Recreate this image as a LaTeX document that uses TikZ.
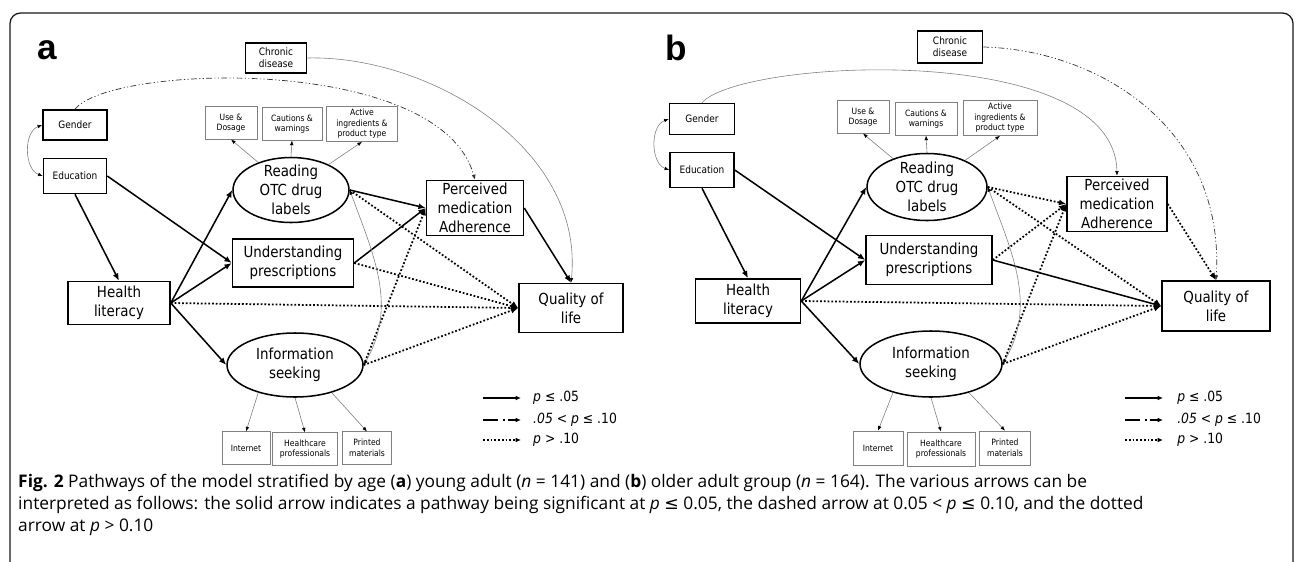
\documentclass[tikz,border=0pt]{standalone}
\usepackage{fontspec}
\usetikzlibrary{arrows.meta,shapes.geometric}
\newfontfamily\diagfont[FakeStretch=0.88]{DejaVu Sans}
\newfontfamily\dvsans{DejaVu Sans}
\newfontfamily\capfont{Open Sans}
\newfontfamily\tagfont{Liberation Sans}

\begin{document}
\begin{tikzpicture}[x=0.03cm,y=-0.03cm,
  every node/.style={align=center},
  obs/.style={draw,line width=1.3pt,inner sep=1pt,font=\diagfont\fontsize{13}{16}\selectfont},
  latent/.style={obs,ellipse,inner xsep=0pt,inner ysep=-6pt},
  demo/.style={draw,line width=1.3pt,inner sep=1pt,minimum height=0.93cm,font=\diagfont\fontsize{8.7}{10.5}\selectfont},
  ind/.style={draw=gray,line width=0.6pt,inner sep=1pt,minimum height=0.97cm,font=\diagfont\fontsize{7.4}{9}\selectfont},
  tag/.style={font=\tagfont\bfseries\fontsize{30}{30}\selectfont},
  leg/.style={anchor=west,inner sep=0pt,font=\diagfont\fontsize{12}{12}\selectfont},
  sig/.style={line width=1.3pt,-{Latex[length=2.2mm,width=1.8mm]}},
  ns/.style={line width=1.5pt,dash pattern=on 1.5pt off 1.7pt,-{Latex[length=2.2mm,width=1.8mm]}},
  marg/.style={line width=0.6pt,black!80,dash pattern=on 5pt off 2pt on 1pt off 2pt on 1pt off 2pt,-{Latex[length=1.5mm,width=1.2mm]}},
  load/.style={gray,line width=0.5pt,-{Latex[length=1.4mm,width=1.1mm,color=black]}},
  cov/.style={load,{Latex[length=1.4mm,width=1.1mm,color=black]}-{Latex[length=1.4mm,width=1.1mm,color=black]}},
]
  \path[use as bounding box,clip] (0,0) rectangle (1295,561);
  \fill[white] (0,0) rectangle (1295,561);
  \draw[line width=1.1pt,black!90,rounded corners=9pt] (10,600) -- (10,13) -- (1293,13) -- (1293,600);

  % panel a: young adults
  \node[tag] (a-tag) at (47,50) {a};
  \node[demo,minimum width=1.83cm,minimum height=0.9cm] (a-chr) at (276,58) {Chronic\\disease};
  \node[demo,minimum width=1.92cm,minimum height=0.9cm] (a-gen) at (75,125) {Gender};
  \node[demo,minimum width=1.89cm,minimum height=1.05cm] (a-edu) at (75,176) {Education};
  \node[ind,minimum width=1.56cm] (a-use) at (231,123) {Use \&\\Dosage};
  \node[ind,minimum width=1.8cm] (a-cau) at (292,124) {Cautions \&\\warnings};
  \node[ind,minimum width=2.13cm,minimum height=1.05cm] (a-act) at (362,124) {Active\\ingredients \&\\product type};
  \node[latent,minimum width=3.48cm,minimum height=1.95cm] (a-read) at (291,190) {Reading\\OTC drug\\labels};
  \node[obs,minimum width=3.63cm,minimum height=1.44cm] (a-und) at (293,263) {Understanding\\prescriptions};
  \node[latent,minimum width=4.08cm,minimum height=1.92cm] (a-info) at (295,365) {Information\\seeking};
  \node[obs,minimum width=3.06cm,minimum height=1.29cm] (a-hl) at (119,303) {Health\\literacy};
  \node[obs,minimum width=2.91cm,minimum height=1.65cm] (a-pma) at (475,208) {Perceived\\medication\\Adherence};
  \node[obs,minimum width=3.12cm,minimum height=1.47cm] (a-qol) at (571,308) {Quality of\\life};
  \node[ind,minimum width=1.44cm] (a-int) at (246,448) {Internet};
  \node[ind,minimum width=1.95cm] (a-hcp) at (305,449) {Healthcare\\professionals};
  \node[ind,minimum width=1.47cm] (a-pm) at (367,448) {Printed\\materials};

  \draw[cov] (a-gen.west) to[out=200,in=160] (a-edu.west);
  \draw[marg] (a-gen.north) .. controls +(35,-45) and +(-35,-126) .. (a-pma.north);
  \draw[load] (a-chr.east) .. controls +(123,-3) and +(14,-134) .. (a-qol.north);
  \draw[sig] (a-edu.south) -- (a-hl.north);
  \draw[sig] (a-edu.east) -- (a-und.west);
  \draw[sig] (a-hl.east) -- (a-read.west);
  \draw[sig] (a-hl.east) -- (a-und.west);
  \draw[sig] (a-hl.east) -- (a-info.west);
  \draw[ns] (a-hl.east) -- (a-qol.west);
  \draw[sig] (a-read.east) -- (a-pma.west);
  \draw[ns] (a-read.east) -- (a-qol.west);
  \draw[sig] (a-und.east) -- (a-pma.west);
  \draw[ns] (a-und.east) -- (a-qol.west);
  \draw[ns] (a-info.east) -- (a-pma.west);
  \draw[ns] (a-info.east) -- (a-qol.west);
  \draw[sig] (a-pma.east) -- (a-qol.north);
  \draw[cov] (a-read.east) to[out=-70,in=60] (a-info.east);
  \draw[load] (a-read) -- (a-use.south);
  \draw[load] (a-read.north) -- (a-cau.south);
  \draw[load] (a-read) -- (a-act.south);
  \draw[load] (a-info.217) -- (a-int.north);
  \draw[load] (a-info.south) -- (a-hcp.north);
  \draw[load] (a-info.323) -- (a-pm.north);

  \coordinate (a-l1) at (483,398); \coordinate (a-l1e) at (521,398);
  \coordinate (a-l2) at (483,420); \coordinate (a-l2e) at (521,420);
  \coordinate (a-l3) at (483,440); \coordinate (a-l3e) at (521,440);
  \draw[sig,-{Latex[length=1.6mm,width=1.4mm]}] (a-l1) -- (a-l1e);
  \draw[line width=1.3pt,dash pattern=on 13pt off 4pt on 1.5pt off 3pt,-{Latex[length=1.6mm,width=1.4mm]}] (a-l2) -- (a-l2e);
  \draw[ns,-{Latex[length=1.6mm,width=1.4mm]}] (a-l3) -- (a-l3e);
  \node[leg] (a-t1) at (533,398) {\textit{p} ≤ .05};
  \node[leg] (a-t2) at (533,420) {\textit{.05 < p} ≤ .10};
  \node[leg] (a-t3) at (533,440) {\textit{p} > .10};

  % panel b: older adults
  \node[tag] (b-tag) at (676,48) {b};
  \node[demo,minimum width=1.95cm,minimum height=0.96cm] (b-chr) at (950,47) {Chronic\\disease};
  \node[demo,minimum width=1.95cm] (b-gen) at (702,119) {Gender};
  \node[demo,minimum width=1.92cm,minimum height=1.05cm] (b-edu) at (702,170) {Education};
  \node[ind,minimum width=1.56cm] (b-use) at (863,117) {Use \&\\Dosage};
  \node[ind,minimum width=1.86cm] (b-cau) at (926,119) {Cautions \&\\warnings};
  \node[ind,minimum width=2.22cm,minimum height=1.05cm] (b-act) at (1000,118) {Active\\ingredients \&\\product type};
  \node[latent,minimum width=3.6cm,minimum height=2.01cm] (b-read) at (927,187) {Reading\\OTC drug\\labels};
  \node[obs,minimum width=3.78cm,minimum height=1.47cm] (b-und) at (929,260) {Understanding\\prescriptions};
  \node[latent,minimum width=4.26cm,minimum height=1.98cm] (b-info) at (931,364) {Information\\seeking};
  \node[obs,minimum width=3.15cm,minimum height=1.32cm] (b-hl) at (748,301) {Health\\literacy};
  \node[obs,minimum width=3cm,minimum height=1.65cm] (b-pma) at (1117,204) {Perceived\\medication\\Adherence};
  \node[obs,minimum width=3.24cm,minimum height=1.5cm] (b-qol) at (1216,306) {Quality of\\life};
  \node[ind,minimum width=1.5cm,minimum height=1.02cm] (b-int) at (878,448) {Internet};
  \node[ind,minimum width=2.04cm,minimum height=1.02cm] (b-hcp) at (941,449) {Healthcare\\professionals};
  \node[ind,minimum width=1.53cm,minimum height=1.02cm] (b-pm) at (1005,448) {Printed\\materials};

  \draw[cov] (b-gen.west) to[out=200,in=160] (b-edu.west);
  \draw[load] (b-gen.north) .. controls +(38,-44) and +(-2,-136) .. (b-pma.north);
  \draw[marg] (b-chr.east) .. controls +(117,3) and +(9,-151) .. (b-qol.north);
  \draw[sig] (b-edu.south) -- (b-hl.north);
  \draw[sig] (b-edu.east) -- (b-und.west);
  \draw[sig] (b-hl.east) -- (b-read.west);
  \draw[sig] (b-hl.east) -- (b-und.west);
  \draw[sig] (b-hl.east) -- (b-info.west);
  \draw[ns] (b-hl.east) -- (b-qol.west);
  \draw[ns] (b-read.east) -- (b-pma.west);
  \draw[ns] (b-read.east) -- (b-qol.west);
  \draw[ns] (b-und.east) -- (b-pma.west);
  \draw[sig] (b-und.east) -- (b-qol.west);
  \draw[ns] (b-info.east) -- (b-pma.west);
  \draw[ns] (b-info.east) -- (b-qol.west);
  \draw[ns] (b-pma.east) -- (b-qol.north);
  \draw[cov] (b-read.east) to[out=-70,in=60] (b-info.east);
  \draw[load] (b-read) -- (b-use.south);
  \draw[load] (b-read.north) -- (b-cau.south);
  \draw[load] (b-read) -- (b-act.south);
  \draw[load] (b-info.217) -- (b-int.north);
  \draw[load] (b-info.south) -- (b-hcp.north);
  \draw[load] (b-info.323) -- (b-pm.north);

  \coordinate (b-l1) at (1125,398); \coordinate (b-l1e) at (1163,398);
  \coordinate (b-l2) at (1125,420); \coordinate (b-l2e) at (1163,420);
  \coordinate (b-l3) at (1125,440); \coordinate (b-l3e) at (1163,440);
  \draw[sig,-{Latex[length=1.6mm,width=1.4mm]}] (b-l1) -- (b-l1e);
  \draw[line width=1.3pt,dash pattern=on 13pt off 4pt on 1.5pt off 3pt,-{Latex[length=1.6mm,width=1.4mm]}] (b-l2) -- (b-l2e);
  \draw[ns,-{Latex[length=1.6mm,width=1.4mm]}] (b-l3) -- (b-l3e);
  \node[leg] (b-t1) at (1177,398) {\textit{p} ≤ .05};
  \node[leg] (b-t2) at (1177,420) {\textit{.05 < p} ≤ .10};
  \node[leg] (b-t3) at (1177,440) {\textit{p} > .10};

  % caption
  \node[anchor=north west,align=left,inner sep=0pt,font=\capfont\fontsize{14.8}{18.6}\selectfont] (caption) at (18,474)
    {{\bfseries Fig. 2} Pathways of the model stratified by age ({\bfseries a}) young adult (\textit{n} = 141) and ({\bfseries b}) older adult group (\textit{n} = 164). The various arrows can be\\
     interpreted as follows: the solid arrow indicates a pathway being significant at \textit{p} {\dvsans ≤} 0.05, the dashed arrow at 0.05 < \textit{p} {\dvsans ≤} 0.10, and the dotted\\
     arrow at \textit{p} > 0.10};
\end{tikzpicture}
\end{document}
